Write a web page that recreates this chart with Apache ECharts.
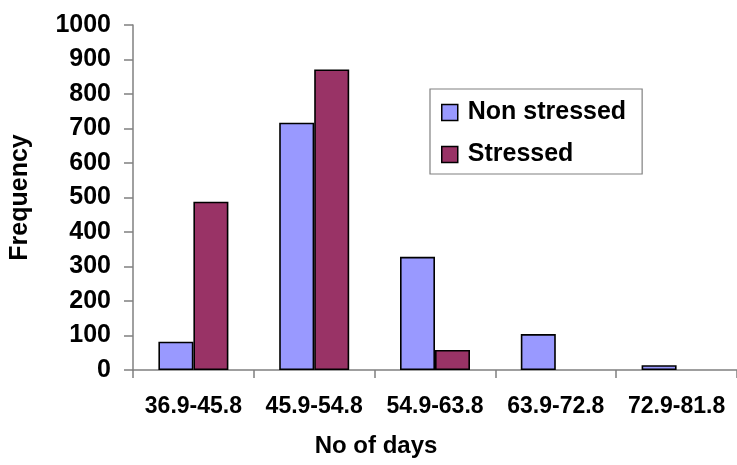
<!DOCTYPE html>
<html>
<head>
<meta charset="utf-8">
<script src="https://cdn.jsdelivr.net/npm/echarts@6/dist/echarts.min.js"></script>
<style>html,body{margin:0;padding:0;background:#fff;}#c{width:737px;height:465px;}</style>
</head>
<body>
<div id="c"></div>
<script>
var categories = ['36.9-45.8', '45.9-54.8', '54.9-63.8', '63.9-72.8', '72.9-81.8'];
var nonStressed = [82, 717, 328, 104, 14];
var stressed = [488, 871, 58, 0, 0];
var yTicks = { min: 0, max: 1000, interval: 100 };

function toBars(arr) {
  return arr.map(function (v) {
    return v === 0 ? { value: v, itemStyle: { borderWidth: 0, opacity: 0 } } : v;
  });
}

var chart = echarts.init(document.getElementById('c'));
var font = 'Liberation Sans, Arial, sans-serif';
chart.setOption({
  animation: false,
  backgroundColor: '#fff',
  grid: { left: 132, right: 0, top: 25, bottom: 95, containLabel: false },
  legend: {
    left: 430, top: 89, orient: 'vertical',
    backgroundColor: '#fff', borderColor: '#808080', borderWidth: 1.2,
    padding: [11, 16, 7, 11],
    itemWidth: 16, itemHeight: 16, itemGap: 17,
    icon: 'rect',
    itemStyle: { borderColor: '#000', borderWidth: 1.5 },
    textStyle: { fontFamily: font, fontWeight: 'bold', fontSize: 25, color: '#000', padding: [0, 0, 0, 5], lineHeight: 24 },
    data: ['Non stressed', 'Stressed']
  },
  xAxis: {
    type: 'category', data: categories,
    name: 'No of days', nameLocation: 'middle', nameGap: 64,
    nameTextStyle: { fontFamily: font, fontWeight: 'bold', fontSize: 24, color: '#000', padding: [0, 118, 0, 0] },
    axisLine: { lineStyle: { color: '#808080', width: 1.5 } },
    axisTick: { show: true, length: 8, lineStyle: { color: '#808080', width: 1.5 } },
    axisLabel: { interval: 0, fontFamily: 'Liberation Sans Narrow, Arial Narrow, ' + font, fontWeight: 'bold', fontSize: 23, color: '#000', margin: 25 }
  },
  yAxis: {
    type: 'value', min: yTicks.min, max: yTicks.max, interval: yTicks.interval,
    name: 'Frequency', nameLocation: 'middle', nameRotate: 90, nameGap: 100,
    nameTextStyle: { fontFamily: font, fontWeight: 'bold', fontSize: 25, color: '#000' },
    axisLine: { show: true, lineStyle: { color: '#808080', width: 1.5 } },
    axisTick: { show: true, length: 9, lineStyle: { color: '#808080', width: 1.5 } },
    axisLabel: { fontFamily: font, fontWeight: 'bold', fontSize: 25, color: '#000', margin: 22,
      formatter: function (v) { return String(v); } },
    splitLine: { show: false }
  },
  series: [
    { name: 'Non stressed', type: 'bar', data: toBars(nonStressed), barWidth: 35, barGap: '0%',
      itemStyle: { color: '#9999FF', borderColor: '#000', borderWidth: 1.6 } },
    { name: 'Stressed', type: 'bar', data: toBars(stressed), barWidth: 35, barGap: '0%',
      itemStyle: { color: '#993366', borderColor: '#000', borderWidth: 1.6 } }
  ]
});
</script>
</body>
</html>
